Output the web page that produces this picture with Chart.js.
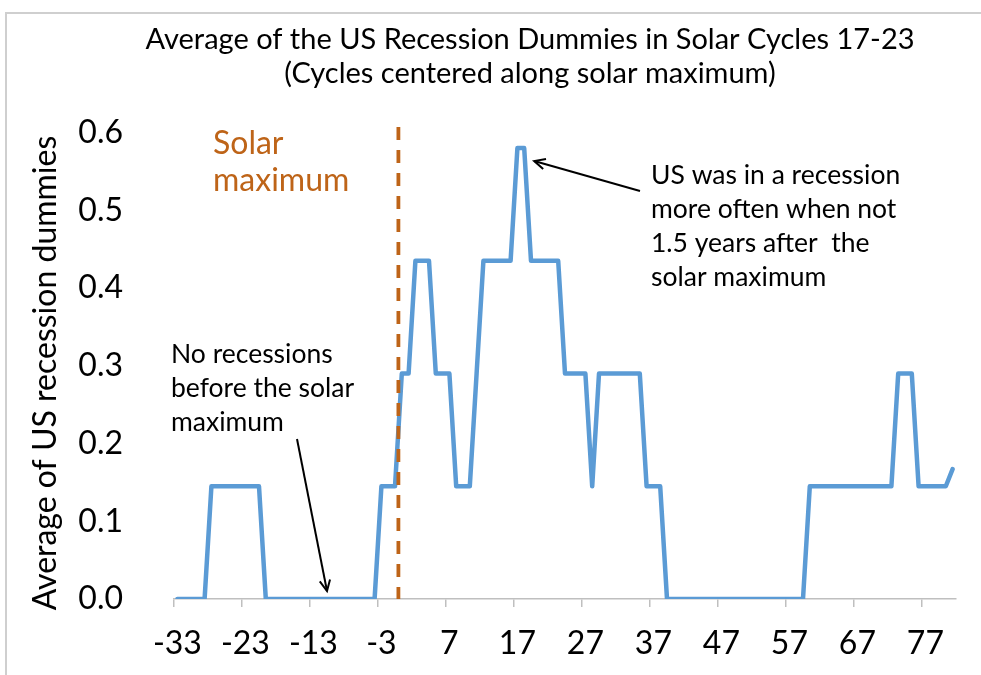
<!DOCTYPE html>
<html><head><meta charset="utf-8">
<script src="https://cdn.jsdelivr.net/npm/chart.js@4.4.1/dist/chart.umd.min.js"></script>
<style>html,body{margin:0;padding:0;background:#fff;}canvas{display:block}</style>
</head><body>
<canvas id="c" width="981" height="675"></canvas>
<script>
// ---- data ----
const categories = [-33,-32,-31,-30,-29,-28,-27,-26,-25,-24,-23,-22,-21,-20,-19,-18,-17,-16,-15,-14,-13,-12,-11,-10,-9,-8,-7,-6,-5,-4,-3,-2,-1,0,1,2,3,4,5,6,7,8,9,10,11,12,13,14,15,16,17,18,19,20,21,22,23,24,25,26,27,28,29,30,31,32,33,34,35,36,37,38,39,40,41,42,43,44,45,46,47,48,49,50,51,52,53,54,55,56,57,58,59,60,61,62,63,64,65,66,67,68,69,70,71,72,73,74,75,76,77,78,79,80,81];
const recessionAverage = [
  0,0,0,0,0,
  0.145,0.145,0.145,0.145,0.145,0.145,0.145,0.145,
  0,0,0,0,0,0,0,0,0,0,0,0,0,0,0,0,0,
  0.145,0.145,0.145,
  0.29,0.29,
  0.435,0.435,0.435,
  0.29,0.29,0.29,
  0.145,0.145,0.145,
  0.29,
  0.435,0.435,0.435,0.435,0.435,
  0.58,0.58,
  0.435,0.435,0.435,0.435,0.435,
  0.29,0.29,0.29,0.29,
  0.145,
  0.29,0.29,0.29,0.29,0.29,0.29,0.29,
  0.145,0.145,0.145,
  0,0,0,0,0,0,0,0,0,0,0,0,0,0,0,0,0,0,0,0,0,
  0.145,0.145,0.145,0.145,0.145,0.145,0.145,0.145,0.145,0.145,0.145,0.145,0.145,
  0.29,0.29,0.29,
  0.145,0.145,0.145,0.145,0.145,
  0.167
];
const labelEvery = 10;
const yTickValues = [0,0.1,0.2,0.3,0.4,0.5,0.6];
const titleLines = ["Average of the US Recession Dummies in Solar Cycles 17-23","(Cycles centered along solar maximum)"];
const yTitle = "Average of US recession dummies";
const solarMaxLines = ["Solar","maximum"];
const noRecessionLines = ["No recessions","before the solar","maximum"];
const peakNoteLines = ["US was in a recession","more often when not","1.5 years after  the","solar maximum"];
const solarMaxBetween = [-1, 0];   // dashed line drawn between these categories
const noRecessionTarget = -11;     // arrow points here (value 0)
const peakTarget = 18;             // arrow points at the peak

const FONT = "Lato, 'Open Sans', sans-serif";
const BLUE = '#5B9BD5';
const BROWN = '#BE6418';

function drawArrow(ctx, x1, y1, x2, y2){
  const a = Math.atan2(y2-y1, x2-x1);
  const L = 12, w = 0.45;
  ctx.beginPath(); ctx.moveTo(x1,y1); ctx.lineTo(x2,y2); ctx.stroke();
  ctx.beginPath();
  ctx.moveTo(x2 - L*Math.cos(a - w), y2 - L*Math.sin(a - w));
  ctx.lineTo(x2, y2);
  ctx.lineTo(x2 - L*Math.cos(a + w), y2 - L*Math.sin(a + w));
  ctx.stroke();
}

const annot = {
  id: 'annot',
  beforeDraw(chart){
    const ctx = chart.ctx;
    ctx.save();
    ctx.fillStyle = '#fff'; ctx.fillRect(0,0,chart.width,chart.height);
    ctx.strokeStyle = '#cfcfcf'; ctx.lineWidth = 2;
    ctx.beginPath(); ctx.moveTo(6,675); ctx.lineTo(6,13); ctx.lineTo(981,13); ctx.stroke();
    ctx.restore();
  },
  afterDraw(chart){
    const {ctx, scales:{x, y}} = chart;
    ctx.save();
    // title
    ctx.fillStyle = '#000'; ctx.textAlign = 'center'; ctx.textBaseline = 'alphabetic';
    ctx.font = '29px ' + FONT;
    ctx.fillText(titleLines[0], 530, 49);
    ctx.fillText(titleLines[1], 530, 83);
    // y axis title
    ctx.save();
    ctx.translate(46, 373); ctx.rotate(-Math.PI/2);
    ctx.textAlign = 'center'; ctx.textBaseline = 'middle';
    ctx.font = '32px ' + FONT;
    ctx.fillText(yTitle, 0, 0);
    ctx.restore();
    // dashed solar maximum line
    const xm = (x.getPixelForValue(categories.indexOf(solarMaxBetween[0])) + x.getPixelForValue(categories.indexOf(solarMaxBetween[1])))/2;
    ctx.strokeStyle = BROWN; ctx.lineWidth = 3.8; ctx.setLineDash([13,10]);
    ctx.beginPath(); ctx.moveTo(xm, 127); ctx.lineTo(xm, y.getPixelForValue(0)); ctx.stroke();
    ctx.setLineDash([]);
    // Solar maximum text
    ctx.textAlign = 'left'; ctx.textBaseline = 'alphabetic';
    ctx.fillStyle = BROWN; ctx.font = '32px ' + FONT;
    ctx.fillText(solarMaxLines[0], 213, 154);
    ctx.fillText(solarMaxLines[1], 213, 191);
    // No recessions note
    ctx.fillStyle = '#000'; ctx.font = '26.5px ' + FONT;
    noRecessionLines.forEach((t,i)=>ctx.fillText(t, 171, 363 + i*34));
    // peak note
    peakNoteLines.forEach((t,i)=>ctx.fillText(t, 651, 184 + i*34));
    // arrows
    ctx.strokeStyle = '#000'; ctx.lineWidth = 2;
    const hx1 = x.getPixelForValue(categories.indexOf(noRecessionTarget)), hy1 = y.getPixelForValue(0) - 8;
    drawArrow(ctx, 297, 439, hx1, hy1);
    const hx2 = x.getPixelForValue(categories.indexOf(peakTarget)) + 10, hy2 = y.getPixelForValue(recessionAverage[categories.indexOf(peakTarget)]) + 13;
    drawArrow(ctx, 640, 191, hx2, hy2);
    ctx.restore();
  }
};

new Chart(document.getElementById('c'), {
  type: 'line',
  data: {
    labels: categories.map(String),
    datasets: [{
      data: recessionAverage,
      borderColor: BLUE, borderWidth: 4.5, pointRadius: 0, tension: 0,
      borderJoinStyle: 'round', borderCapStyle: 'round', fill: false
    }]
  },
  options: {
    responsive: false, animation: false, devicePixelRatio: 1,
    layout: { padding: { top: 132.5, right: 25, left: 0, bottom: 0 } },
    plugins: { legend: { display: false }, title: { display: false }, tooltip: { enabled: false } },
    scales: {
      x: {
        type: 'category', offset: true,
        grid: { display: true, drawOnChartArea: false, offset: true, tickLength: 8, lineWidth: 1.5,
                color: (c) => (c.index % labelEvery === 0 && c.index < categories.length) ? '#bfbfbf' : 'rgba(0,0,0,0)' },
        border: { display: true, color: '#bfbfbf', width: 1.5 },
        ticks: { autoSkip: false, maxRotation: 0, minRotation: 0, color: '#000', padding: 17,
                 font: { family: FONT, size: 32 },
                 callback: function(val, idx){ return idx % labelEvery === 0 ? this.getLabelForValue(val) : ''; } },
        afterFit: (s) => { s.height = 76; }
      },
      y: {
        min: 0, max: 0.6,
        afterBuildTicks: (s) => { s.ticks = yTickValues.map(v => ({ value: v })); },
        grid: { display: false }, border: { display: false },
        ticks: { color: '#000', padding: 43, font: { family: FONT, size: 32 }, callback: (v) => Number(v).toFixed(1) },
        afterFit: (s) => { s.width = 174; }
      }
    }
  },
  plugins: [annot]
});
</script>
</body></html>
